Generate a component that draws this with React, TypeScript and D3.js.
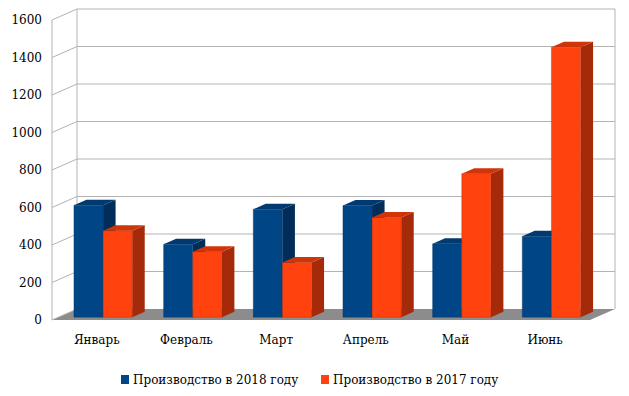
import React from 'react';
import * as d3 from 'd3';

const months = ['Январь', 'Февраль', 'Март', 'Апрель', 'Май', 'Июнь'];
const output2018 = [598, 390, 576, 596, 392, 432];
const output2017 = [462, 350, 292, 532, 766, 1440];
const seriesNames = ['Производство в 2018 году', 'Производство в 2017 году'];
const yTicks = [0, 200, 400, 600, 800, 1000, 1200, 1400, 1600];

const W = 629;
const H = 396;
const FONT = 'DejaVu Serif';

// depth of the 3d box (front -> back)
const DX = 25;
const DY = -11;

const colors = [
  { front: '#004586', side: '#002d59', top: '#003a70' },
  { front: '#ff420e', side: '#a52a0a', top: '#d03508' },
];

const App = () => {
  const x = d3.scaleBand<string>().domain(months).range([52, 590]);
  const y = d3.scaleLinear().domain([0, 1600]).range([320, 20]);

  const pt = (px: number, py: number, z: number) => [px + DX * z, py + DY * z];
  const poly = (pts: number[][]) => pts.map((p) => p.join(',')).join(' ');

  const barW = x.bandwidth() * 0.325;
  const z0 = 0.25;
  const z1 = 0.75;

  const bars: React.ReactNode[] = [];
  months.forEach((m, i) => {
    const c = x(m)! + x.bandwidth() / 2;
    [output2018[i], output2017[i]].forEach((v, s) => {
      const x0 = c - barW + s * barW;
      const x1 = x0 + barW;
      const yb = y(0);
      const yt = y(v);
      const fbl = pt(x0, yb, z0), fbr = pt(x1, yb, z0), ftl = pt(x0, yt, z0), ftr = pt(x1, yt, z0);
      const bbr = pt(x1, yb, z1), btl = pt(x0, yt, z1), btr = pt(x1, yt, z1);
      const col = colors[s];
      bars.push(
        <g key={`${m}-${s}`}>
          <polygon points={poly([fbr, bbr, btr, ftr])} fill={col.side} />
          <polygon points={poly([ftl, ftr, btr, btl])} fill={col.top} />
          <polygon points={poly([fbl, fbr, ftr, ftl])} fill={col.front} stroke={col.side} strokeOpacity={0.35} strokeWidth={1} />
        </g>
      );
    });
  });

  const left = 52;
  const right = 590;

  return (
    <svg width={W} height={H} style={{ position: 'absolute', left: 0, top: 0, background: '#fff' }}>
      {/* floor */}
      <polygon
        points={poly([pt(left, y(0), 0), pt(left, y(0), 1), pt(right, y(0), 1), pt(right, y(0), 0)])}
        fill="#8c8c8c"
      />
      {/* gridlines: side wall + back wall */}
      {yTicks.map((t) => {
        const a = pt(left, y(t), 0);
        const b = pt(left, y(t), 1);
        const e = pt(right, y(t), 1);
        return (
          <g key={t} stroke="#b3b3b3" strokeWidth={1} fill="none">
            <line x1={a[0]} y1={a[1]} x2={b[0]} y2={b[1]} />
            {t > 0 && <line x1={b[0]} y1={b[1]} x2={e[0]} y2={e[1]} />}
          </g>
        );
      })}
      <g stroke="#b3b3b3" strokeWidth={1}>
        <line x1={left} y1={y(0)} x2={left} y2={y(1600)} />
        <line x1={left + DX} y1={y(0) + DY} x2={left + DX} y2={y(1600) + DY} />
        <line x1={right + DX} y1={y(0) + DY} x2={right + DX} y2={y(1600) + DY} />
      </g>
      {bars}
      {/* y labels */}
      {yTicks.map((t) => (
        <text key={t} x={42} y={y(t)} dy="0.35em" textAnchor="end" fontFamily={FONT} fontSize={12} fill="#000">
          {t}
        </text>
      ))}
      {/* x labels */}
      {months.map((m) => (
        <text key={m} x={x(m)! + x.bandwidth() / 2} y={340} dy="0.35em" textAnchor="middle" fontFamily={FONT} fontSize={12} fill="#000">
          {m}
        </text>
      ))}
      {/* legend */}
      {seriesNames.map((n, s) => {
        const lx = s === 0 ? 121 : 321;
        return (
          <g key={n}>
            <rect x={lx} y={375} width={8} height={9} fill={colors[s].front} />
            <text x={lx + 12} y={380} dy="0.35em" fontFamily={FONT} fontSize={12} fill="#000">
              {n}
            </text>
          </g>
        );
      })}
    </svg>
  );
};

export default App;
